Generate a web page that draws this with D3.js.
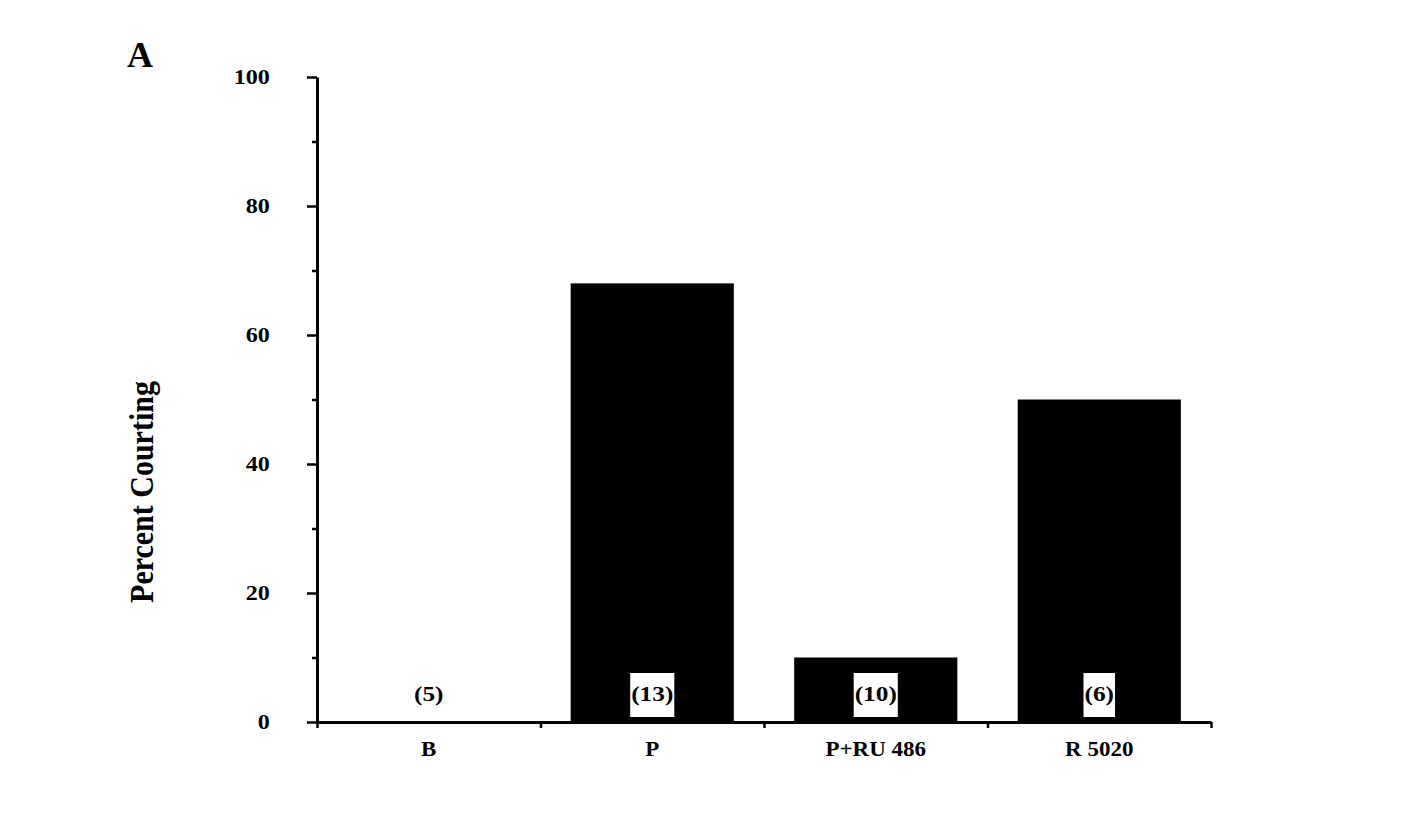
<!DOCTYPE html>
<meta charset="utf-8">
<title>Percent Courting</title>
<script src="https://cdn.jsdelivr.net/npm/d3@7"></script>
<style>
    body { margin: 0; background: #fff; }
    text { font-family: "Liberation Serif", "Times New Roman", serif; font-weight: bold; fill: #000; }
    .axis path, .axis line { stroke: #000; }
</style>
<svg width="1426" height="820"></svg>
<script>
    // data
    const categories = ["B", "P", "P+RU 486", "R 5020"];
    const percentCourting = [0, 68, 10, 50];
    const sampleSizes = ["(5)", "(13)", "(10)", "(6)"];
    const yTicks = [0, 20, 40, 60, 80, 100];
    const yMinorTicks = [10, 30, 50, 70, 90];

    const data = categories.map((c, i) => ({ name: c, value: percentCourting[i], n: sampleSizes[i] }));

    const svg = d3.select("svg");
    const plotLeft = 317, plotRight = 1211, plotTop = 77, plotBottom = 722;
    const stretch = 1.15; // the scanned type is a little wide

    const x = d3.scaleBand()
        .domain(categories)
        .range([plotLeft, plotRight])
        .paddingInner(0.27)
        .paddingOuter(0.135);

    const xEdge = d3.scaleLinear().domain([0, categories.length]).range([plotLeft, plotRight]);

    const y = d3.scaleLinear().domain([0, 100]).range([plotBottom, plotTop]);

    // bars
    svg.selectAll(".bar")
        .data(data)
        .join("rect")
        .attr("class", "bar")
        .attr("x", d => x(d.name))
        .attr("y", d => y(d.value))
        .attr("width", x.bandwidth())
        .attr("height", d => y(0) - y(d.value))
        .attr("fill", "#000");

    // x axis ticks at category edges
    svg.append("g")
        .attr("class", "axis")
        .attr("transform", `translate(0,${plotBottom})`)
        .call(d3.axisBottom(xEdge).tickValues(d3.range(categories.length + 1)).tickFormat("").tickSize(6).tickSizeOuter(0))
        .call(g => g.select(".domain").attr("stroke-width", 3))
        .call(g => g.selectAll(".tick line").attr("stroke-width", 2.5));

    // category labels
    svg.append("g")
        .attr("transform", `translate(0,${plotBottom})`)
        .call(d3.axisBottom(x).tickSize(0).tickPadding(20))
        .call(g => g.select(".domain").remove())
        .call(g => g.selectAll("text")
            .attr("font-size", 20)
            .attr("font-family", null)
            .attr("transform", `scale(${stretch},1)`));

    // y axis minor ticks
    svg.append("g")
        .attr("class", "axis")
        .attr("transform", `translate(${plotLeft},0)`)
        .call(d3.axisLeft(y).tickValues(yMinorTicks).tickFormat("").tickSize(5).tickSizeOuter(0))
        .call(g => g.select(".domain").remove())
        .call(g => g.selectAll(".tick line").attr("stroke-width", 2.5));

    // y axis major
    svg.append("g")
        .attr("class", "axis")
        .attr("transform", `translate(${plotLeft},0)`)
        .call(d3.axisLeft(y).tickValues(yTicks).tickSize(10).tickSizeOuter(0).tickPadding(31))
        .call(g => g.select(".domain").attr("stroke-width", 3))
        .call(g => g.selectAll(".tick line").attr("stroke-width", 2.5))
        .call(g => g.selectAll("text")
            .attr("font-size", 21)
            .attr("font-family", null)
            .attr("transform", `scale(${stretch},1)`));

    // sample size labels, white boxes on the filled bars
    const labels = svg.selectAll(".n")
        .data(data)
        .join("g")
        .attr("class", "n")
        .attr("transform", d => `translate(${x(d.name) + x.bandwidth() / 2},${y(0) - 28})`);

    labels.append("text")
        .attr("text-anchor", "middle")
        .attr("dominant-baseline", "central")
        .attr("font-size", 22)
        .attr("transform", `scale(${stretch},1)`)
        .text(d => d.n);

    labels.filter(d => d.value > 0).each(function () {
        const b = d3.select(this).select("text").node().getBBox();
        d3.select(this).insert("rect", "text")
            .attr("x", b.x * stretch - 1)
            .attr("y", -21)
            .attr("width", b.width * stretch + 2)
            .attr("height", 44)
            .attr("fill", "#fff");
    });

    // y axis title
    svg.append("text")
        .attr("transform", `translate(153,492) rotate(-90) scale(1,${stretch})`)
        .attr("text-anchor", "middle")
        .attr("font-size", 30)
        .text("Percent Courting");

    // panel letter
    svg.append("text")
        .attr("x", 127)
        .attr("y", 67)
        .attr("font-size", 36)
        .text("A");
</script>
